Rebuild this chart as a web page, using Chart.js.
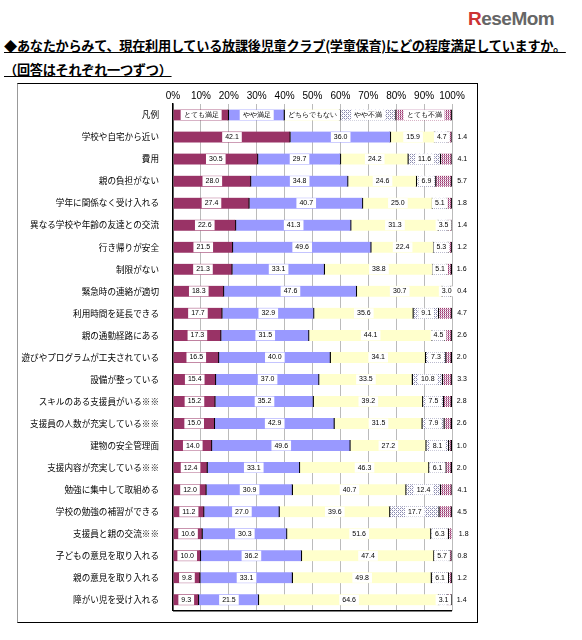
<!DOCTYPE html>
<html><head><meta charset="utf-8">
<script src="https://cdn.jsdelivr.net/npm/chart.js@4/dist/chart.umd.min.js"></script>
<style>
body{margin:0;background:#fff;width:582px;height:640px;position:relative;font-family:"Noto Sans CJK JP",sans-serif;overflow:hidden}
.t{position:absolute;left:4px;font-weight:bold;font-size:13.2px;text-decoration:underline;color:#000;white-space:nowrap;letter-spacing:-0.3px}
#logo{position:absolute;left:468px;top:8px;font-family:"Liberation Sans",sans-serif;font-weight:bold;font-size:19px;color:#666;letter-spacing:-0.5px}
#logo span{color:#c33}
#frame{position:absolute;left:17px;top:83px;width:459px;height:538px;border:1.5px solid #000;border-left-color:#999}
#wrap{position:absolute;left:18px;top:84px;width:460px;height:538px}
</style></head><body>
<div id="logo"><span>R</span>eseMom</div>
<div class="t" style="top:36px">◆あなたからみて、現在利用している放課後児童クラブ(学童保育)にどの程度満足していますか。</div>
<div class="t" style="top:60px">（回答はそれぞれ一つずつ）</div>
<div id="frame"></div>
<div id="wrap"><canvas id="c" width="460" height="538"></canvas></div>
<script>
const categories=["凡例","学校や自宅から近い","費用","親の負担がない","学年に関係なく受け入れる","異なる学校や年齢の友達との交流","行き帰りが安全","制限がない","緊急時の連絡が適切","利用時間を延長できる","親の通勤経路にある","遊びやプログラムが工夫されている","設備が整っている","スキルのある支援員がいる※※","支援員の人数が充実している※※","建物の安全管理面","支援内容が充実している※※","勉強に集中して取組める","学校の勉強の補習ができる","支援員と親の交流※※","子どもの意見を取り入れる","親の意見を取り入れる","障がい児を受け入れる"];
const seriesNames=["とても満足","やや満足","どちらでもない","やや不満","とても不満"];
const verySatisfied=[20,42.1,30.5,28.0,27.4,22.6,21.5,21.3,18.3,17.7,17.3,16.5,15.4,15.2,15.0,14.0,12.4,12.0,11.2,10.6,10.0,9.8,9.3];
const somewhatSatisfied=[20,36.0,29.7,34.8,40.7,41.3,49.6,33.1,47.6,32.9,31.5,40.0,37.0,35.2,42.9,49.6,33.1,30.9,27.0,30.3,36.2,33.1,21.5];
const neutral=[20,15.9,24.2,24.6,25.0,31.3,22.4,38.8,30.7,35.6,44.1,34.1,33.5,39.2,31.5,27.2,46.3,40.7,39.6,51.6,47.4,49.8,64.6];
const somewhatDissatisfied=[20,4.7,11.6,6.9,5.1,3.5,5.3,5.1,3.0,9.1,4.5,7.3,10.8,7.5,7.9,8.1,6.1,12.4,17.7,6.3,5.7,6.1,3.1];
const veryDissatisfied=[20,1.4,4.1,5.7,1.8,1.4,1.2,1.6,0.4,4.7,2.6,2.0,3.3,2.8,2.6,1.0,2.0,4.1,4.5,1.8,0.8,1.2,1.4];
const tickLabels=["0%","10%","20%","30%","40%","50%","60%","70%","80%","90%","100%"];

function pat(kind){const p=document.createElement('canvas');p.width=4;p.height=4;const g=p.getContext('2d');
 g.fillStyle='#fff';g.fillRect(0,0,4,4);
 if(kind==1){g.fillStyle='#8888aa';g.fillRect(0,0,1,1);g.fillRect(2,2,1,1);g.fillRect(2,0,1,1);g.fillRect(0,2,1,1);g.fillStyle='#bbbbdd';g.fillRect(1,1,1,1);g.fillRect(3,3,1,1);}
 else{g.fillStyle='#993366';g.fillRect(0,0,1,4);g.fillRect(2,0,1,4);g.fillStyle='#cc99bb';g.fillRect(0,1,4,1);g.fillRect(0,3,4,1);}
 return document.getElementById('c').getContext('2d').createPattern(p,'repeat');}
const colors=['#993366','#9999ff','#ffffcc',pat(1),pat(2)];
const all=[verySatisfied,somewhatSatisfied,neutral,somewhatDissatisfied,veryDissatisfied];
const labelPlugin={id:'lbl',afterDatasetsDraw(ch){const c=ch.ctx;c.save();c.font='7px "Liberation Sans",sans-serif';c.textBaseline='middle';c.textAlign='center';
 ch.data.datasets.forEach((ds,di)=>{ch.getDatasetMeta(di).data.forEach((el,i)=>{
  let txt=i==0?seriesNames[di]:ds.data[i].toFixed(1);
  const l=Math.min(el.x,el.base),r=Math.max(el.x,el.base);
  let cx=(l+r)/2; if(di==4&&i>0)cx=r+10;
  const w=c.measureText(txt).width+6;
  c.fillStyle='#fff';c.fillRect(cx-w/2,el.y-5,w,10);
  c.fillStyle='#000';c.fillText(txt,cx,el.y);});});
 c.restore();}};
new Chart(document.getElementById('c'),{type:'bar',
 data:{labels:categories,datasets:all.map((d,i)=>({label:seriesNames[i],data:d,backgroundColor:colors[i],borderColor:'#000',borderWidth:{right:1.2,left:0,top:0,bottom:0},borderSkipped:false,barThickness:11}))},
 options:{indexAxis:'y',responsive:false,animation:false,
  layout:{padding:{right:26,top:4,bottom:8}},
  plugins:{legend:{display:false},tooltip:{enabled:false}},
  scales:{
   x:{stacked:true,position:'top',min:0,max:100,ticks:{stepSize:10,maxRotation:0,minRotation:0,autoSkip:false,callback:(v,i)=>tickLabels[i],color:'#000',font:{size:10,family:'"Liberation Sans",sans-serif'},padding:2},grid:{color:'#bbb',drawTicks:false},border:{display:false}},
   y:{stacked:true,afterFit(s){s.width=155;},ticks:{color:'#000',font:{size:8.6,family:'"Noto Sans CJK JP"'},padding:6},grid:{display:false},border:{color:'#000',width:1.5}}
  }},
 plugins:[labelPlugin,{id:'bl',afterDraw(ch){const a=ch.chartArea,c=ch.ctx;c.save();c.strokeStyle='#000';c.lineWidth=1.5;c.beginPath();c.moveTo(a.left,a.bottom);c.lineTo(a.right,a.bottom);c.stroke();c.restore();}}]
});
</script></body></html>
